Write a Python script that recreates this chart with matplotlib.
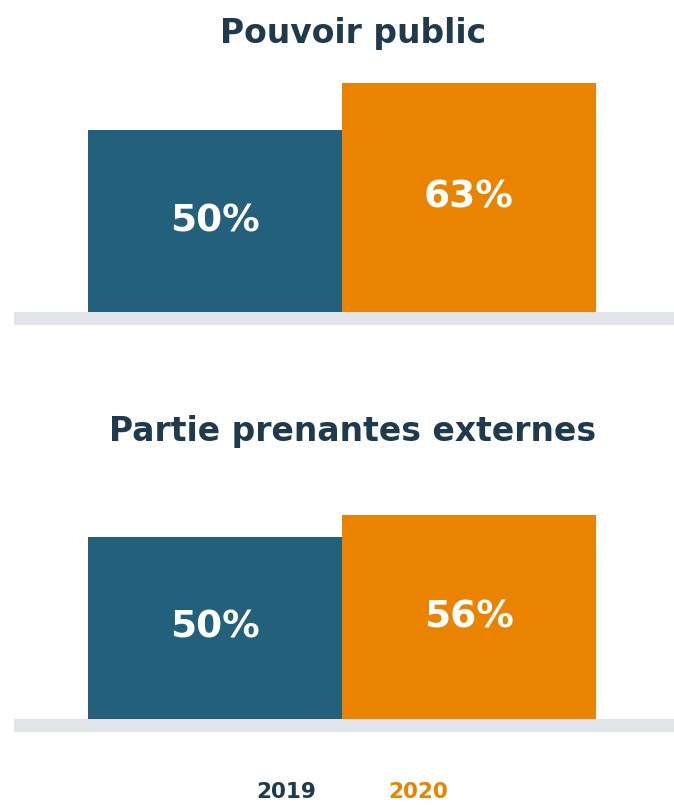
import matplotlib.pyplot as plt

# survey results, share of respondents per year
years = ["2019", "2020"]
panel_titles = ["Pouvoir public", "Partie prenantes externes"]
values_public = [50, 63]
values_externes = [50, 56]

blue = "#22607c"
orange = "#e98300"
navy = "#1f3a4d"
band = "#e1e5e9"

W, H = 674, 805
fig = plt.figure(figsize=(W / 100, H / 100), dpi=100)
plt.rcParams["font.family"] = ["DejaVu Sans"]

px_per_pct = 3.64  # vertical scale shared by both panels
band_h = 13 / px_per_pct


def panel(bottom_px, top_px, vals, title, title_y):
    # axes runs from the bottom of the gray band up to top_px (pixels from top)
    ax = fig.add_axes([14 / W, 1 - (bottom_px + 13) / H,
                       (W - 14) / W, (bottom_px + 13 - top_px) / H])
    x = list(range(len(vals)))
    bars = ax.bar(x, vals, width=1.0, color=[blue, orange], linewidth=0)
    ax.axhspan(-band_h, 0, color=band, linewidth=0)
    ax.set_xlim(-0.5 - 74 / 254, 1.5 + 78 / 254)
    ax.set_ylim(-band_h, (bottom_px - top_px) / px_per_pct)
    ax.axis("off")
    for b, v in zip(bars, vals):
        ax.text(b.get_x() + b.get_width() / 2, v / 2, f"{v}%", ha="center",
                va="center", color="white", fontsize=27, fontweight="bold")
    fig.text(353 / W, 1 - title_y / H, title, ha="center", va="center",
             color=navy, fontsize=23.8, fontweight="bold")


panel(312, 70, values_public, panel_titles[0], 33)
panel(719, 480, values_externes, panel_titles[1], 431)

# year legend under the charts
fig.text(286 / W, 1 - 792 / H, years[0], ha="center", va="center",
         color=navy, fontsize=15.5, fontweight="bold")
fig.text(418 / W, 1 - 792 / H, years[1], ha="center", va="center",
         color=orange, fontsize=15.5, fontweight="bold")

fig.savefig("out.png", dpi=100, facecolor="white")
